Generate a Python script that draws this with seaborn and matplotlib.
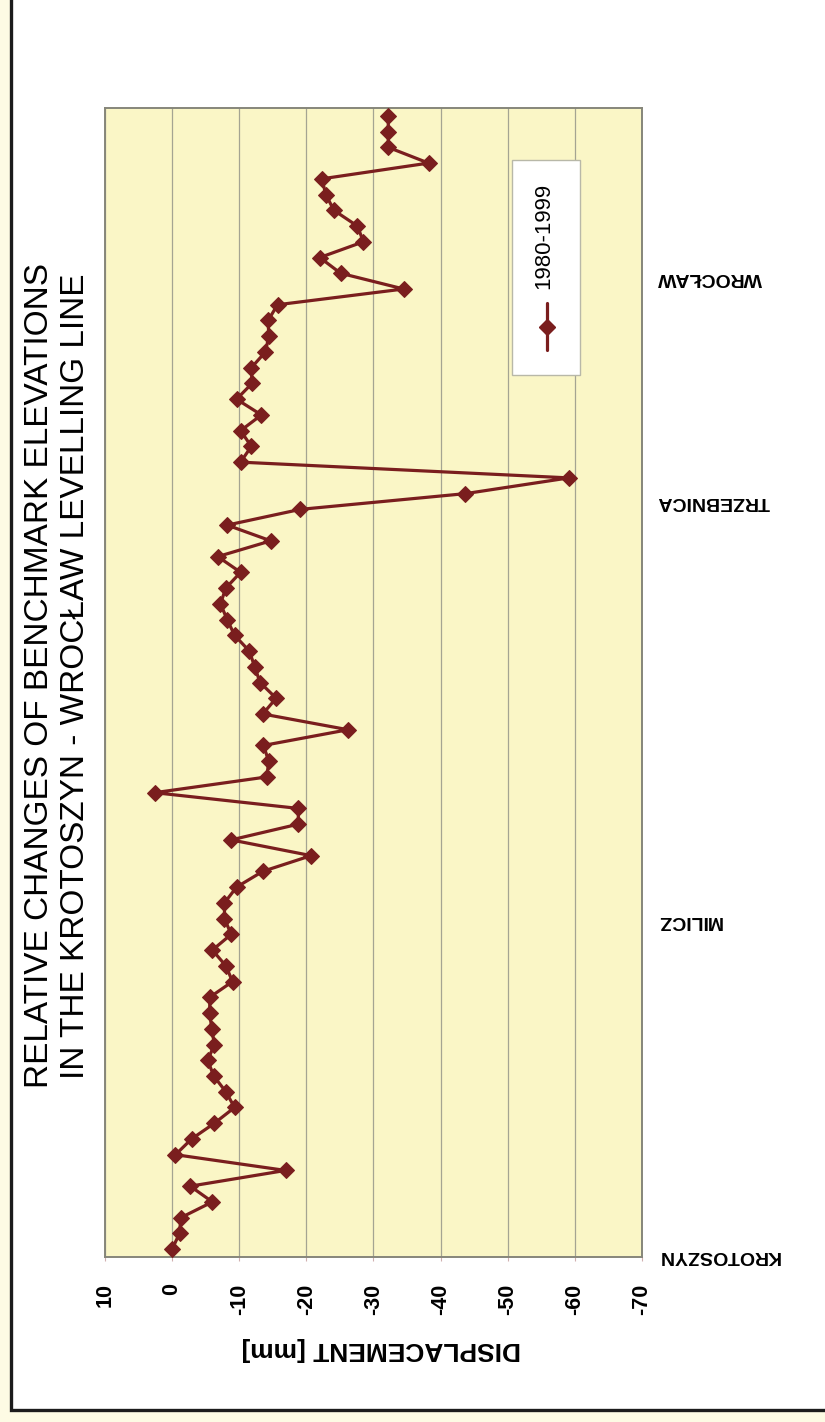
import numpy as np
import pandas as pd
import matplotlib
matplotlib.use('Agg')
import matplotlib.pyplot as plt
from matplotlib.patches import Rectangle
from matplotlib.lines import Line2D
import seaborn as sns

# benchmark displacements 1980-1999 [mm], from Krotoszyn to Wroclaw
displacement = [
    0.0, -1.1, -1.3, -6.0, -2.7, -16.9, -0.5, -2.9, -6.3, -9.3,
    -8.0, -6.2, -5.3, -6.3, -5.9, -5.6, -5.6, -9.0, -8.0, -6.0,
    -8.8, -7.8, -7.8, -9.6, -13.5, -20.7, -8.8, -18.8, -18.8, 2.6,
    -14.1, -14.4, -13.6, -26.2, -13.5, -15.5, -13.1, -12.3, -11.5, -9.3,
    -8.2, -7.2, -8.0, -10.2, -6.8, -14.7, -8.2, -19.1, -43.7, -59.1,
    -10.2, -11.8, -10.2, -13.3, -9.6, -11.9, -11.8, -13.9, -14.4, -14.3,
    -15.7, -34.5, -25.1, -22.0, -28.5, -27.6, -24.1, -22.9, -22.3, -38.2,
    -32.2, -32.2, -32.2,
]
benchmark = list(range(len(displacement)))

stations = ['KROTOSZYN', 'MILICZ', 'TRZEBNICA', 'WROCŁAW']
station_pos = [-0.4, 20.9, 47.5, 61.7]

disp_ticks = [10, 0, -10, -20, -30, -40, -50, -60, -70]
disp_labels = ['10', '0', '-10', '-20', '-30', '-40', '-50', '-60', '-70']

series_name = '1980-1999'
line_color = '#7a1e1e'

sns.set_style('white')
plt.rcParams['font.family'] = ['Liberation Sans', 'DejaVu Sans']
plt.rcParams['text.color'] = 'black'
plt.rcParams['xtick.labelcolor'] = 'black'
plt.rcParams['ytick.labelcolor'] = 'black'

df = pd.DataFrame({'benchmark': benchmark, 'displacement': displacement})

fig = plt.figure(figsize=(8.25, 14.22), dpi=100)
fig.patch.set_facecolor('#fdfbe4')

# outer frame
frame = Rectangle((11 / 825, 1 - 1410 / 1422), 1.2, 1.2, transform=fig.transFigure,
                  facecolor='white', edgecolor='#1c1c1c', lw=2.4, zorder=-5)
fig.add_artist(frame)

ax = fig.add_axes([105 / 825, 1 - 1257 / 1422, 537 / 825, 1149 / 1422])
ax.set_facecolor('#faf6c6')

sns.lineplot(data=df, x='displacement', y='benchmark', orient='y', sort=False,
             color=line_color, lw=2.3, marker='D', markersize=8,
             markerfacecolor=line_color, markeredgecolor=line_color, ax=ax,
             zorder=4)

ax.set_xlim(10, -70)
ax.set_ylim(-0.5, len(displacement) - 0.5)
ax.set_xticks(disp_ticks)
ax.set_xticklabels(disp_labels, rotation=90, fontsize=15.5, fontweight='bold')
ax.tick_params(axis='x', length=3, color='#d0b0b0', pad=16, bottom=True)

ax.yaxis.tick_right()
ax.set_yticks(station_pos)
ax.set_yticklabels(stations, rotation=180, fontsize=14, fontweight='bold',
                   va='center', ha='left')
ax.tick_params(axis='y', length=0, pad=11)

ax.set_xlabel('')
ax.set_ylabel('')
ax.grid(axis='x', color='#a4a492', lw=0.9)
ax.grid(axis='y', visible=False)
for side in ['left', 'right', 'top', 'bottom']:
    ax.spines[side].set_color('#86867a')
    ax.spines[side].set_linewidth(1.4)

# legend (rotated, drawn by hand)
ax.add_patch(Rectangle((0.758, 0.768), 0.127, 0.187, transform=ax.transAxes,
                       facecolor='white', edgecolor='#b8b8a8', lw=1, zorder=5))
ax.add_line(Line2D([0.823, 0.823], [0.789, 0.830], transform=ax.transAxes,
                   color=line_color, lw=2.3, zorder=6))
ax.add_line(Line2D([0.823], [0.8095], transform=ax.transAxes, marker='D',
                   markersize=8, color=line_color, zorder=7))
ax.text(0.8175, 0.8886, series_name, transform=ax.transAxes, rotation=90,
        ha='center', va='center', fontsize=16, zorder=7)

# axis title and chart title
fig.text(381 / 825, 1 - 1349 / 1422, 'DISPLACEMENT [mm]', rotation=180,
         ha='center', va='center', fontsize=19, fontweight='bold')
fig.text(40 / 825, 1 - 675 / 1422, 'RELATIVE CHANGES OF BENCHMARK ELEVATIONS',
         rotation=90, ha='center', va='center', fontsize=24)
fig.text(76 / 825, 1 - 676 / 1422, 'IN THE KROTOSZYN - WROCŁAW LEVELLING LINE',
         rotation=90, ha='center', va='center', fontsize=24)

fig.savefig('out.png', dpi=100, facecolor=fig.get_facecolor())
